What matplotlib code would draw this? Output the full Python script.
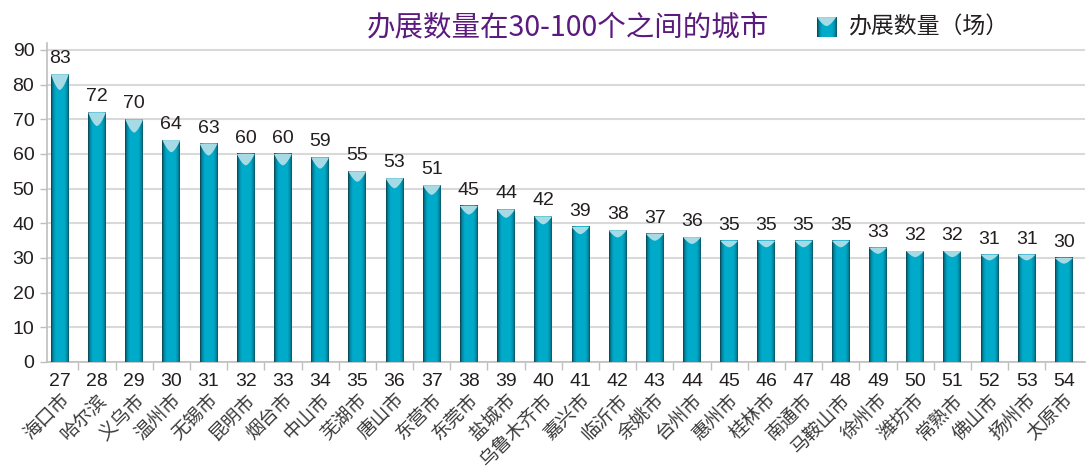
import numpy as np
import matplotlib
matplotlib.use("Agg")
import matplotlib.pyplot as plt
from matplotlib.colors import LinearSegmentedColormap
from matplotlib.patches import Polygon

plt.rcParams['font.family'] = ['Liberation Sans', 'Noto Sans CJK SC', 'DejaVu Sans']

ranks = list(range(27, 55))
cities = ["海口市", "哈尔滨", "义乌市", "温州市", "无锡市", "昆明市", "烟台市", "中山市",
          "芜湖市", "唐山市", "东营市", "东莞市", "盐城市", "乌鲁木齐市", "嘉兴市", "临沂市",
          "余姚市", "台州市", "惠州市", "桂林市", "南通市", "马鞍山市", "徐州市", "潍坊市",
          "常熟市", "佛山市", "扬州市", "太原市"]
counts = [83, 72, 70, 64, 63, 60, 60, 59, 55, 53, 51, 45, 44, 42, 39, 38, 37, 36,
          35, 35, 35, 35, 33, 32, 32, 31, 31, 30]

title = "办展数量在30-100个之间的城市"
legend_label = "办展数量（场）"

txt = "#231f20"
cmap = LinearSegmentedColormap.from_list(
    "bar", [(0, "#0c3f4a"), (0.1, "#00829c"), (0.25, "#00aaca"), (0.75, "#00acca"),
            (0.9, "#008ca7"), (1, "#0a5563")])
grad = np.linspace(0, 1, 64).reshape(1, -1)
cap_color = "#a6dbe5"

fig = plt.figure(figsize=(10.88, 4.70), dpi=100)
ax = fig.add_axes([0.043, 0.2298, 0.954, 0.6787])

x = np.arange(len(counts))
w = 0.48
t = np.linspace(-1, 1, 21)
for xi, v in zip(x, counts):
    ax.imshow(grad, cmap=cmap, extent=[xi - w / 2, xi + w / 2, 0, v],
              aspect='auto', zorder=3, interpolation='bilinear')
    # light v-shaped cap on top of each bar
    depth = 0.055 * v
    px = xi + t * w / 2
    py = v - depth * (1 - np.abs(t) ** 1.6)
    pts = [(xi - w / 2, v)] + list(zip(px, py)) + [(xi + w / 2, v)]
    ax.add_patch(Polygon(pts, closed=True, facecolor=cap_color, edgecolor='none', zorder=4))
    ax.text(xi, v + 2.0, str(v), ha='center', va='bottom', fontsize=14, color=txt, zorder=5)

ax.set_xlim(-0.35, 27.56)
ax.set_ylim(0, 92)
ax.set_yticks(np.arange(0, 100, 10))
ax.tick_params(axis='y', labelsize=14, colors=txt, length=5, width=1, color='#bfbfbf', pad=4)
ax.grid(axis='y', color='#d9d9d9', linewidth=1.5, zorder=0)
ax.set_axisbelow(True)

ax.set_xticks(x)
ax.set_xticklabels([str(r) for r in ranks], fontsize=14, color=txt)
ax.tick_params(axis='x', length=0, pad=8)
ax.set_xticks(x[:-1] + 0.5, minor=True)
ax.tick_params(axis='x', which='minor', length=6, color='#bfbfbf', width=1)

for side in ['top', 'right']:
    ax.spines[side].set_visible(False)
ax.spines['left'].set_color('#bfbfbf')
ax.spines['bottom'].set_color('#bfbfbf')
ax.spines['left'].set_linewidth(1.2)
ax.spines['bottom'].set_linewidth(1.2)

for xi, c in zip(x, cities):
    ax.text(xi + 0.18, -0.11, c, transform=ax.get_xaxis_transform(), rotation=45,
            rotation_mode='anchor', ha='right', va='center', fontsize=13.5,
            color='#3a3a3a', family=['Noto Sans CJK SC'])

fig.text(0.522, 0.94, title, ha='center', va='center', fontsize=20.5, color='#5b1a7d',
         family=['Noto Sans CJK SC'])

# legend icon
lax = fig.add_axes([0.751, 0.921, 0.0175, 0.0426])
lax.imshow(grad, cmap=cmap, extent=[0, 1, 0, 1], aspect='auto')
lax.add_patch(Polygon([(0, 1)] + list(zip(0.5 + t * 0.5, 1 - 0.45 * (1 - np.abs(t) ** 1.6))) + [(1, 1)],
                      closed=True, facecolor=cap_color, edgecolor='none'))
lax.set_xlim(0, 1)
lax.set_ylim(0, 1)
lax.axis('off')
fig.text(0.779, 0.942, legend_label, ha='left', va='center', fontsize=16.5, color=txt,
         family=['Noto Sans CJK SC'])

fig.savefig("out.png", dpi=100)
